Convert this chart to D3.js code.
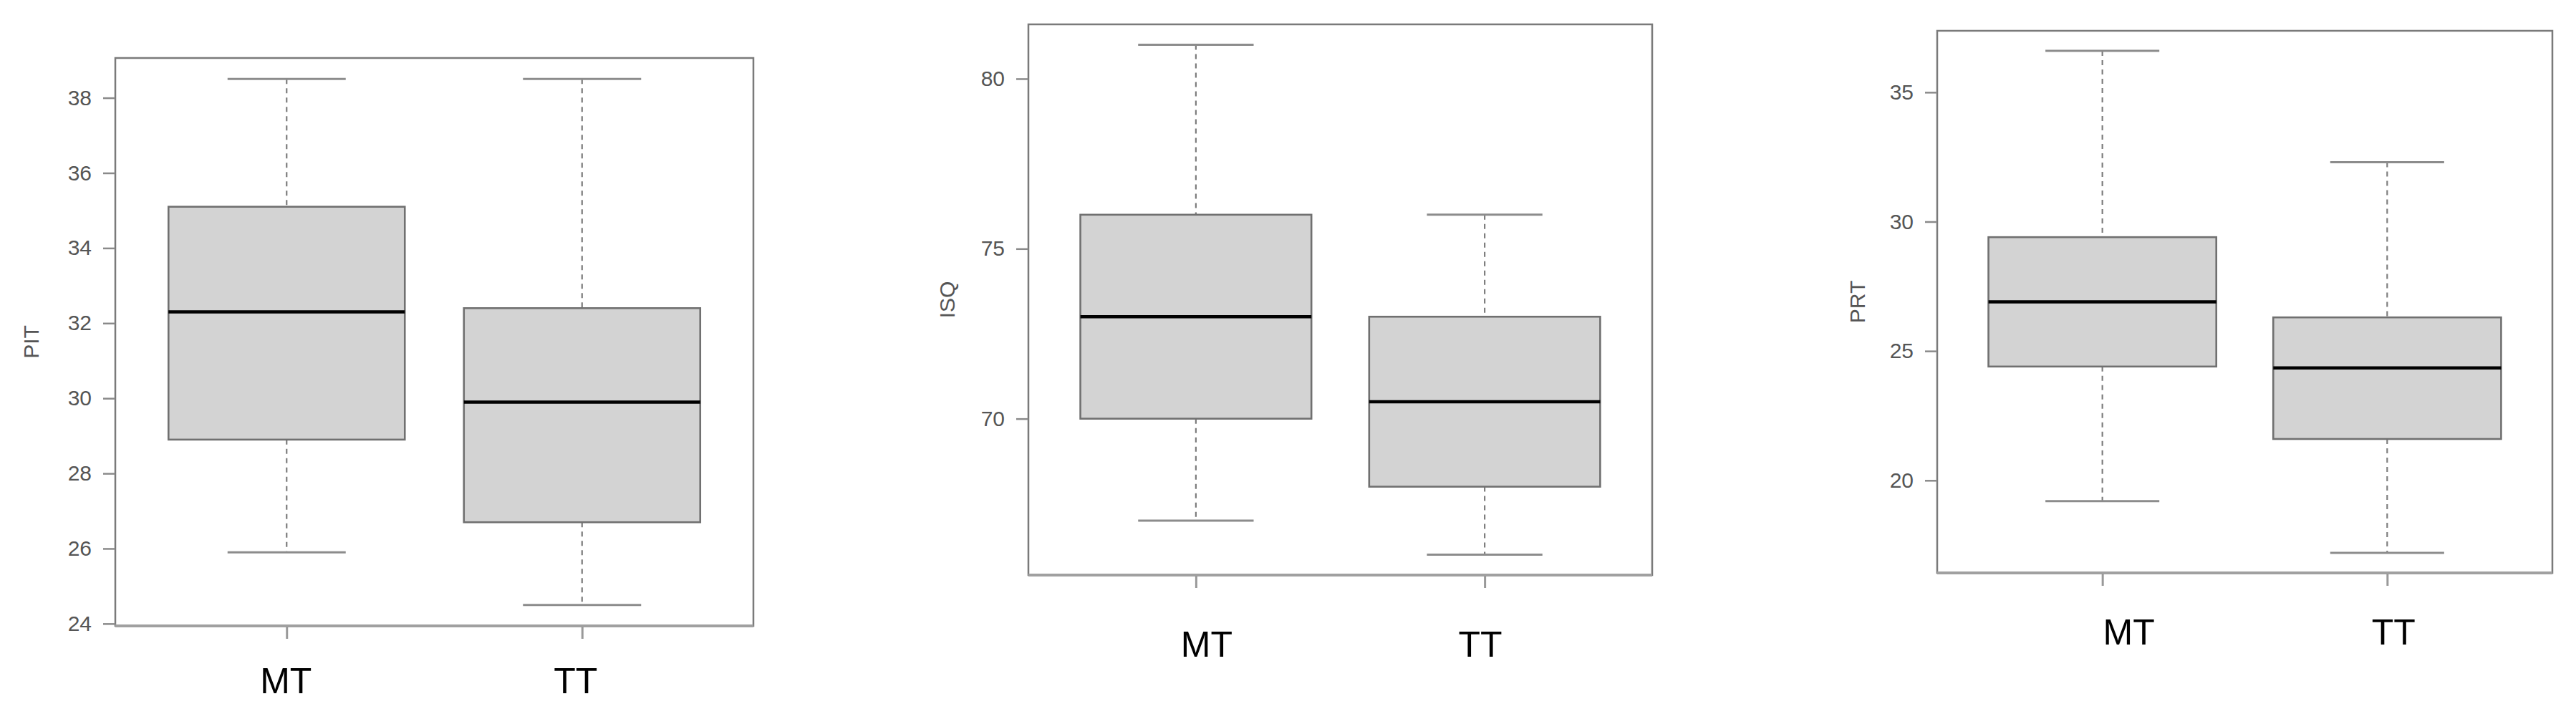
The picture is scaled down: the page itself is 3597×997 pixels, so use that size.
<!DOCTYPE html>
<html>
<head>
<meta charset="utf-8">
<script src="https://cdn.jsdelivr.net/npm/d3@7"></script>
<style>
  html, body { margin: 0; padding: 0; background: #ffffff; }
  svg { display: block; }
</style>
</head>
<body>
<svg id="chart" width="3597" height="997"></svg>
<script>
// ---------- DATA ----------
const categories = ["MT", "TT"];

// PIT
const pitLow    = [25.9, 24.5];
const pitQ1     = [28.9, 26.7];
const pitMedian = [32.3, 29.9];
const pitQ3     = [35.1, 32.4];
const pitHigh   = [38.5, 38.5];
const pitTicks  = [24, 26, 28, 30, 32, 34, 36, 38];

// ISQ
const isqLow    = [67, 66];
const isqQ1     = [70, 68];
const isqMedian = [73, 70.5];
const isqQ3     = [76, 73];
const isqHigh   = [81, 76];
const isqTicks  = [70, 75, 80];

// PRT
const prtLow    = [19.2, 17.2];
const prtQ1     = [24.4, 21.6];
const prtMedian = [26.9, 24.35];
const prtQ3     = [29.4, 26.3];
const prtHigh   = [36.6, 32.3];
const prtTicks  = [20, 25, 30, 35];

// ---------- LAYOUT ----------
const panels = [
  { title: "PIT", low: pitLow, q1: pitQ1, med: pitMedian, q3: pitQ3, high: pitHigh, ticks: pitTicks,
    frame: { left: 161, right: 1052, top: 81, bottom: 874 },
    labelY: 968, labelDx: [-1, -9], titleX: 43 },
  { title: "ISQ", low: isqLow, q1: isqQ1, med: isqMedian, q3: isqQ3, high: isqHigh, ticks: isqTicks,
    frame: { left: 1436, right: 2307, top: 34, bottom: 803 },
    labelY: 917, labelDx: [15, -6], titleX: 1322 },
  { title: "PRT", low: prtLow, q1: prtQ1, med: prtMedian, q3: prtQ3, high: prtHigh, ticks: prtTicks,
    frame: { left: 2705, right: 3564, top: 43, bottom: 800 },
    labelY: 900, labelDx: [37, 9], titleX: 2593 }
];

const svg = d3.select("#chart");
const FRAME = "#7a7a7a";
const TICKC = "#8a8a8a";
const TEXTC = "#555555";

panels.forEach(p => {
  const f = p.frame;
  const g = svg.append("g");

  // R-like limits: data range padded by 4%
  const lo = d3.min(p.low), hi = d3.max(p.high);
  const pad = (hi - lo) * 0.04;
  const y = d3.scaleLinear().domain([lo - pad, hi + pad]).range([f.bottom, f.top]);
  const x = d3.scaleLinear().domain([0.42, 2.58]).range([f.left, f.right]);

  const rows = categories.map((c, i) => ({
    cat: c, pos: i + 1, low: p.low[i], q1: p.q1[i], med: p.med[i], q3: p.q3[i], high: p.high[i], dx: p.labelDx[i]
  }));

  // whiskers (dashed)
  g.selectAll(".wu").data(rows).enter().append("line")
    .attr("x1", d => x(d.pos)).attr("x2", d => x(d.pos))
    .attr("y1", d => y(d.high)).attr("y2", d => y(d.q3))
    .attr("stroke", "#7d7d7d").attr("stroke-width", 2.2).attr("stroke-dasharray", "7,6");
  g.selectAll(".wl").data(rows).enter().append("line")
    .attr("x1", d => x(d.pos)).attr("x2", d => x(d.pos))
    .attr("y1", d => y(d.q1)).attr("y2", d => y(d.low))
    .attr("stroke", "#7d7d7d").attr("stroke-width", 2.2).attr("stroke-dasharray", "7,6");

  // caps
  g.selectAll(".cu").data(rows).enter().append("line")
    .attr("x1", d => x(d.pos - 0.2)).attr("x2", d => x(d.pos + 0.2))
    .attr("y1", d => y(d.high)).attr("y2", d => y(d.high))
    .attr("stroke", "#8c8c8c").attr("stroke-width", 3);
  g.selectAll(".cl").data(rows).enter().append("line")
    .attr("x1", d => x(d.pos - 0.2)).attr("x2", d => x(d.pos + 0.2))
    .attr("y1", d => y(d.low)).attr("y2", d => y(d.low))
    .attr("stroke", "#8c8c8c").attr("stroke-width", 3);

  // boxes
  g.selectAll(".box").data(rows).enter().append("rect")
    .attr("x", d => x(d.pos - 0.4)).attr("width", d => x(d.pos + 0.4) - x(d.pos - 0.4))
    .attr("y", d => y(d.q3)).attr("height", d => y(d.q1) - y(d.q3))
    .attr("fill", "#d3d3d3").attr("stroke", "#707070").attr("stroke-width", 2.6);

  // medians
  g.selectAll(".med").data(rows).enter().append("line")
    .attr("x1", d => x(d.pos - 0.4)).attr("x2", d => x(d.pos + 0.4))
    .attr("y1", d => y(d.med)).attr("y2", d => y(d.med))
    .attr("stroke", "#000000").attr("stroke-width", 4.5);

  // frame
  g.append("rect")
    .attr("x", f.left).attr("y", f.top)
    .attr("width", f.right - f.left).attr("height", f.bottom - f.top)
    .attr("fill", "none").attr("stroke", FRAME).attr("stroke-width", 2.5);
  g.append("line")
    .attr("x1", f.left).attr("x2", f.right).attr("y1", f.bottom).attr("y2", f.bottom)
    .attr("stroke", "#a0a0a0").attr("stroke-width", 4);

  // y axis
  const yAxis = d3.axisLeft(y).tickValues(p.ticks).tickSize(17).tickPadding(16).tickFormat(d3.format("d"));
  const ya = g.append("g").attr("transform", `translate(${f.left},0)`).call(yAxis);
  ya.select(".domain").remove();
  ya.selectAll(".tick line").attr("stroke", TICKC).attr("stroke-width", 2.5);
  ya.selectAll(".tick text")
    .attr("fill", TEXTC).attr("font-family", "'Liberation Sans', Arial, sans-serif")
    .attr("font-size", 30);

  // x axis ticks (no labels; labels drawn separately)
  const xAxis = d3.axisBottom(x).tickValues([1, 2]).tickSize(17).tickFormat("");
  const xa = g.append("g").attr("transform", `translate(0,${f.bottom + 1})`).call(xAxis);
  xa.select(".domain").remove();
  xa.selectAll(".tick line").attr("stroke", "#999999").attr("stroke-width", 3);

  // category labels
  g.selectAll(".cat").data(rows).enter().append("text")
    .attr("x", d => x(d.pos) + d.dx).attr("y", p.labelY)
    .attr("text-anchor", "middle")
    .attr("font-family", "'Liberation Sans', Arial, sans-serif")
    .attr("font-size", 50).attr("fill", "#000000")
    .text(d => d.cat);

  // y title
  const cy = (f.top + f.bottom) / 2;
  g.append("text")
    .attr("transform", `translate(${p.titleX},${cy}) rotate(-90)`)
    .attr("text-anchor", "middle").attr("dominant-baseline", "central")
    .attr("font-family", "'Liberation Sans', Arial, sans-serif")
    .attr("font-size", 30).attr("fill", TEXTC)
    .text(p.title);
});
</script>
</body>
</html>
